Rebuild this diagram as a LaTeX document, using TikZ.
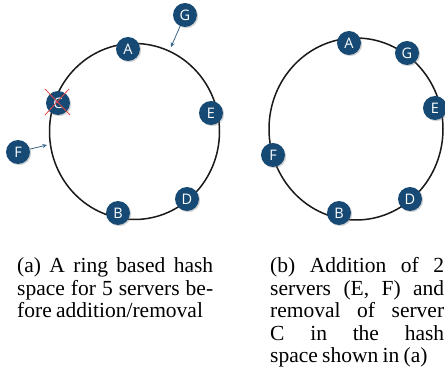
\documentclass[tikz,border=0pt]{standalone}
\usepackage{fontspec}
\setmainfont{Liberation Serif}
\newfontfamily\capfont{Liberation Serif}
\newfontfamily\nodefont{Open Sans}
\usetikzlibrary{shadows,arrows.meta}
\definecolor{srvblue}{RGB}{22,74,116}
\definecolor{xred}{RGB}{232,70,70}
\tikzset{
  srv/.style={circle, fill=srvblue, text=white, minimum size=24pt, inner sep=0pt,
    font=\nodefont\fontsize{14.5}{14.5}\selectfont,
    drop shadow={opacity=0.35, shadow xshift=1.2pt, shadow yshift=-1.2pt}},
  ring/.style={line width=1.5pt, black!90},
  ptr/.style={draw=srvblue!85, line width=0.8pt, -{Stealth[length=4.5pt,width=4pt]}},
  captext/.style={anchor=base west, inner sep=0pt}
}
\newcommand{\capsetup}{\capfont\fontsize{21.5}{22.5}\selectfont\spaceskip=0.2em plus 2em minus 0.05em\relax}
\begin{document}
\begin{tikzpicture}[x=1pt,y=-1pt]
\useasboundingbox (0,0) rectangle (445,374);
% left ring
\draw[ring] (134.5,131.5) ellipse [x radius=85, y radius=88];
\node[srv] (A1) at (128,49) {A};
\node[srv] (C1) at (58,103) {C};
\node[srv] (E1) at (211,113) {E};
\node[srv] (D1) at (187,199) {D};
\node[srv] (B1) at (118,213) {B};
\node[srv] (G1) at (185,15) {G};
\node[srv] (F1) at (18,152) {F};
\coordinate (gt) at (171,47);
\coordinate (ft) at (47,145);
\draw[ptr] (G1) -- (gt);
\draw[ptr] (F1) -- (ft);
\coordinate (x1) at (45,89);
\coordinate (x2) at (70,115);
\coordinate (x3) at (69,89);
\coordinate (x4) at (45,115);
\draw[xred, line width=0.8pt] (x1) -- (x2);
\draw[xred, line width=0.8pt] (x3) -- (x4);
% right ring
\draw[ring] (356,129) ellipse [x radius=87, y radius=91];
\node[srv] (A2) at (349,43) {A};
\node[srv] (G2) at (407,53) {G};
\node[srv] (E2) at (435,108) {E};
\node[srv] (F2) at (273,155) {F};
\node[srv] (D2) at (410,199) {D};
\node[srv] (B2) at (339,213) {B};
% captions
\node[captext] (capa) at (17,273) {\parbox[t]{196pt}{\capsetup
(a) A ring based hash\linebreak space for 5 servers be-\linebreak fore addition/removal}};
\node[captext] (capb) at (270,273) {\parbox[t]{174pt}{\capsetup
(b) Addition of 2\linebreak servers (E, F) and\linebreak removal of server\linebreak C in the hash\linebreak space shown in (a)}};
\end{tikzpicture}
\end{document}
